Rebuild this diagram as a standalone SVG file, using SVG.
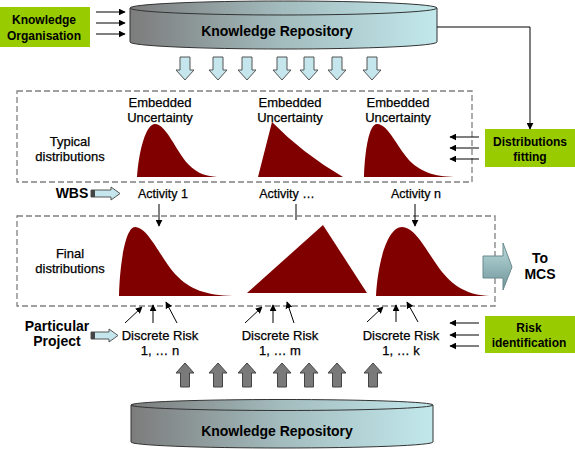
<svg xmlns="http://www.w3.org/2000/svg" width="575" height="449" viewBox="0 0 575 449">
<defs>
<linearGradient id="cyl" x1="0" y1="0" x2="1" y2="0">
<stop offset="0" stop-color="#7c7c7c"/>
<stop offset="0.5" stop-color="#a3bcbe"/>
<stop offset="1" stop-color="#c2e8ec"/>
</linearGradient>
<linearGradient id="mcs" x1="0" y1="0" x2="0" y2="1">
<stop offset="0" stop-color="#bcdcde"/>
<stop offset="1" stop-color="#6e9498"/>
</linearGradient>
<marker id="ah" viewBox="0 0 10 10" refX="9" refY="5" markerWidth="7" markerHeight="7" markerUnits="userSpaceOnUse" orient="auto">
<path d="M0,0 L10,5 L0,10 Z" fill="#000"/>
</marker>
</defs>
<style>
text{font-family:"Liberation Sans",Arial,sans-serif;fill:#000;text-anchor:middle}
.r{font-size:13px;stroke:#000;stroke-width:0.25}
.a{font-size:12.5px;stroke:#000;stroke-width:0.25}
.b{font-size:14px;font-weight:bold}
.g{font-size:12px;font-weight:bold}
.green{fill:#99cc00}
.dash{fill:#fff;stroke:#808080;stroke-width:1.3;stroke-dasharray:6 3}
.dist{fill:#800000}
.cyl{fill:url(#cyl);stroke:#333;stroke-width:1}
.dn{fill:#c4e6ec;stroke:#555;stroke-width:1}
.up{fill:#7a7a7a;stroke:#444;stroke-width:1}
.ln{stroke:#000;stroke-width:1;fill:none}
.blk{fill:#c4e6ec;stroke:#555;stroke-width:1}
</style>

<g id="upper-box"><rect class="dash" x="17" y="91" width="455" height="91"/>
<text class="r" x="70" y="146">Typical</text><text class="r" x="70" y="161">distributions</text></g>
<g id="lower-box"><rect class="dash" x="17" y="216" width="478" height="90"/>
<text class="r" x="70" y="258">Final</text><text class="r" x="70" y="273">distributions</text></g>

<g id="knowledge-organisation"><rect class="green" x="0" y="7" width="90" height="40"/>
<text class="g" x="44" y="24">Knowledge</text><text class="g" x="44" y="40">Organisation</text></g>

<g id="repository-top">
<path class="cyl" d="M130,8 V42 A153.5,7 0 0 0 437,42 V8 Z"/>
<ellipse class="cyl" cx="283.5" cy="8" rx="153.5" ry="7"/>
<text class="b" x="277" y="36">Knowledge Repository</text>
</g>

<g id="down-arrows">
<path class="dn" d="M180,57 h10 v13 h4 l-9,10 l-9,-10 h4 Z"/>
<path class="dn" d="M213,57 h10 v13 h4 l-9,10 l-9,-10 h4 Z"/>
<path class="dn" d="M242,57 h10 v13 h4 l-9,10 l-9,-10 h4 Z"/>
<path class="dn" d="M277,57 h10 v13 h4 l-9,10 l-9,-10 h4 Z"/>
<path class="dn" d="M304,57 h10 v13 h4 l-9,10 l-9,-10 h4 Z"/>
<path class="dn" d="M332,57 h10 v13 h4 l-9,10 l-9,-10 h4 Z"/>
<path class="dn" d="M367,57 h10 v13 h4 l-9,10 l-9,-10 h4 Z"/>
</g>

<g id="typical-1"><text class="r" x="160" y="107">Embedded</text><text class="r" x="160" y="122">Uncertainty</text>
<path class="dist" d="M137,177 C139,150 146,124 155,124 C166,124 176,151 188,164 C199,175 207,176 217,177 Z"/></g>
<g id="typical-2"><text class="r" x="290" y="107">Embedded</text><text class="r" x="290" y="122">Uncertainty</text>
<path class="dist" d="M258,177 L272,122 Q302,153 343,177 Z"/></g>
<g id="typical-3"><text class="r" x="398" y="107">Embedded</text><text class="r" x="398" y="122">Uncertainty</text>
<path class="dist" d="M364,177 C365,150 369,124 377,124 C389,124 398,150 412,163 C426,175 440,177 462,177 Z"/></g>

<g id="distributions-fitting"><rect class="green" x="485" y="129" width="90" height="38"/>
<text class="g" x="530" y="146">Distributions</text><text class="g" x="530" y="161">fitting</text></g>

<g id="wbs"><text class="b" x="72" y="198">WBS</text>
<path class="blk" d="M91,190 h20 v-3 l9,6.5 l-9,6.5 v-3 h-20 Z"/><rect x="91" y="190" width="4" height="7" fill="#444"/></g>

<g id="activity-1"><text class="a" x="163" y="198">Activity 1</text></g>
<g id="activity-mid"><text class="a" x="287" y="198">Activity …</text></g>
<g id="activity-n"><text class="a" x="416" y="198">Activity n</text></g>

<g id="final-1"><path class="dist" d="M119,296 C120,260 126,227 135,227 C148,227 160,257 175,274 C190,290 206,295 233,296 Z"/></g>
<g id="final-2"><path class="dist" d="M247,293 L323,225 L367,293 Z"/></g>
<g id="final-3"><path class="dist" d="M376,296 C378,260 388,227 402,227 C415,227 426,250 439,268 C453,287 468,295 490,296 Z"/></g>

<g id="to-mcs"><path d="M483,256 H503 V243 L512,267 L503,290 V278 H483 Z" fill="url(#mcs)" stroke="#6a8a8e" stroke-width="1"/>
<text class="b" x="540" y="263">To</text><text class="b" x="540" y="279">MCS</text></g>

<g id="particular-project"><text class="b" x="57" y="331">Particular</text><text class="b" x="57" y="346">Project</text>
<path class="blk" d="M91,332 h18 v-3 l9,6.5 l-9,6.5 v-3 h-18 Z"/><rect x="91" y="332" width="4" height="7" fill="#444"/></g>

<g id="risk-1"><text class="r" x="160" y="340">Discrete Risk</text><text class="r" x="160" y="355">1, … n</text></g>
<g id="risk-2"><text class="r" x="280" y="340">Discrete Risk</text><text class="r" x="280" y="355">1, … m</text></g>
<g id="risk-3"><text class="r" x="401" y="340">Discrete Risk</text><text class="r" x="401" y="355">1, … k</text></g>

<g id="risk-identification"><rect class="green" x="485" y="316" width="90" height="37"/>
<text class="g" x="529" y="332">Risk</text><text class="g" x="529" y="347">identification</text></g>

<g id="up-arrows">
<path class="up" d="M180.5,387 v-14 h-4.5 l9,-10 l9,10 h-4.5 v14 Z"/>
<path class="up" d="M213.5,387 v-14 h-4.5 l9,-10 l9,10 h-4.5 v14 Z"/>
<path class="up" d="M242.5,387 v-14 h-4.5 l9,-10 l9,10 h-4.5 v14 Z"/>
<path class="up" d="M277.5,387 v-14 h-4.5 l9,-10 l9,10 h-4.5 v14 Z"/>
<path class="up" d="M304.5,387 v-14 h-4.5 l9,-10 l9,10 h-4.5 v14 Z"/>
<path class="up" d="M332.5,387 v-14 h-4.5 l9,-10 l9,10 h-4.5 v14 Z"/>
<path class="up" d="M368.5,387 v-14 h-4.5 l9,-10 l9,10 h-4.5 v14 Z"/>
</g>

<g id="repository-bottom">
<path class="cyl" d="M131,405 V442 A151,6 0 0 0 433,442 V405 Z"/>
<ellipse class="cyl" cx="282" cy="405" rx="151" ry="5.5"/>
<text class="b" x="277" y="436">Knowledge Repository</text>
</g>

<g id="connectors">
<line class="ln" x1="96" y1="12" x2="125" y2="12" marker-end="url(#ah)"/>
<line class="ln" x1="96" y1="23" x2="125" y2="23" marker-end="url(#ah)"/>
<line class="ln" x1="96" y1="34" x2="125" y2="34" marker-end="url(#ah)"/>
<path class="ln" d="M437,27 H530 V129" marker-end="url(#ah)"/>
<line class="ln" x1="479" y1="137" x2="450" y2="137" marker-end="url(#ah)"/>
<line class="ln" x1="479" y1="148" x2="450" y2="148" marker-end="url(#ah)"/>
<line class="ln" x1="479" y1="159" x2="450" y2="159" marker-end="url(#ah)"/>
<line class="ln" x1="159" y1="204" x2="159" y2="226" marker-end="url(#ah)"/>
<line x1="296" y1="204" x2="296" y2="220" stroke="#808080" stroke-width="2"/>
<line class="ln" x1="415" y1="204" x2="415" y2="226" marker-end="url(#ah)"/>
<line class="ln" x1="125" y1="323" x2="142" y2="307" marker-end="url(#ah)"/>
<line class="ln" x1="153" y1="323" x2="153" y2="305" marker-end="url(#ah)"/>
<line class="ln" x1="177" y1="323" x2="166" y2="302" marker-end="url(#ah)"/>
<line class="ln" x1="245" y1="323" x2="262" y2="307" marker-end="url(#ah)"/>
<line class="ln" x1="273" y1="323" x2="273" y2="305" marker-end="url(#ah)"/>
<line class="ln" x1="294" y1="323" x2="287" y2="302" marker-end="url(#ah)"/>
<line class="ln" x1="367" y1="322" x2="383" y2="307" marker-end="url(#ah)"/>
<line class="ln" x1="396" y1="322" x2="396" y2="305" marker-end="url(#ah)"/>
<line class="ln" x1="418" y1="322" x2="407" y2="302" marker-end="url(#ah)"/>
<line class="ln" x1="479" y1="323" x2="450" y2="323" marker-end="url(#ah)"/>
<line class="ln" x1="479" y1="335" x2="450" y2="335" marker-end="url(#ah)"/>
<line class="ln" x1="479" y1="346" x2="450" y2="346" marker-end="url(#ah)"/>
</g>
</svg>
